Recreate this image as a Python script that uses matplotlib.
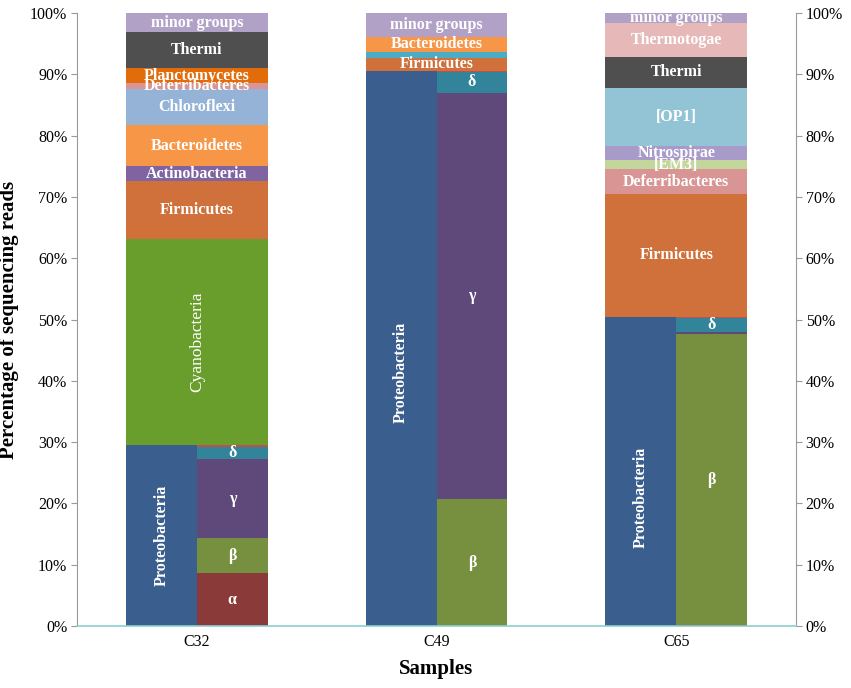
import matplotlib
matplotlib.use("Agg")
import matplotlib.pyplot as plt
from matplotlib.ticker import FuncFormatter

plt.rcParams["font.family"] = ["Liberation Serif", "DejaVu Serif"]

samples = ["C32", "C49", "C65"]

# Proteobacteria total (left half of each bar) and its classes (right half), in %
proteobacteria = [29.5, 90.5, 50.4]
prot_alpha = [8.6, 0.0, 0.2]
prot_beta = [5.8, 20.7, 47.4]
prot_gamma = [12.8, 66.3, 0.3]
prot_delta = [2.0, 3.4, 2.4]
prot_other = [0.3, 0.1, 0.1]

# other phyla stacked above Proteobacteria across the whole bar, bottom to top
phyla = ["Cyanobacteria", "Firmicutes", "Actinobacteria", "Unlabelled",
         "Bacteroidetes", "Chloroflexi", "Deferribacteres", "[EM3]",
         "Nitrospirae", "[OP1]", "Planctomycetes", "Thermi", "Thermotogae",
         "minor groups"]
phyla_values = {
    "Cyanobacteria":   [33.6, 0.0, 0.0],
    "Firmicutes":      [9.5, 2.2, 20.1],
    "Actinobacteria":  [2.4, 0.0, 0.0],
    "Unlabelled":      [0.0, 1.0, 0.0],
    "Bacteroidetes":   [6.7, 2.4, 0.0],
    "Chloroflexi":     [5.9, 0.0, 0.0],
    "Deferribacteres": [1.0, 0.0, 4.0],
    "[EM3]":           [0.0, 0.0, 1.5],
    "Nitrospirae":     [0.0, 0.0, 2.3],
    "[OP1]":           [0.0, 0.0, 9.5],
    "Planctomycetes":  [2.4, 0.0, 0.0],
    "Thermi":          [5.9, 0.0, 5.0],
    "Thermotogae":     [0.0, 0.0, 5.6],
    "minor groups":    [3.1, 3.9, 1.6],
}

colors = {
    "Proteobacteria": "#3A5F8E",
    "α": "#8B3A3A", "β": "#76903F", "γ": "#5E497A", "δ": "#32849A",
    "other": "#C0504D",
    "Cyanobacteria": "#699E2C", "Firmicutes": "#D0703A",
    "Actinobacteria": "#8064A2", "Unlabelled": "#4BACC6",
    "Bacteroidetes": "#F79646", "Chloroflexi": "#95B3D7",
    "Deferribacteres": "#D99594", "[EM3]": "#C3D69B",
    "Nitrospirae": "#A99BC9", "[OP1]": "#92C4D6",
    "Planctomycetes": "#E36C0A", "Thermi": "#4F4F4F",
    "Thermotogae": "#E6B9B8", "minor groups": "#B2A1C7",
}

# which segments get a text label
labelled = {
    "Cyanobacteria": [True, False, False],
    "Firmicutes": [True, True, True],
    "Actinobacteria": [True, False, False],
    "Bacteroidetes": [True, True, False],
    "Chloroflexi": [True, False, False],
    "Deferribacteres": [True, False, True],
    "[EM3]": [False, False, True],
    "Nitrospirae": [False, False, True],
    "[OP1]": [False, False, True],
    "Planctomycetes": [True, False, False],
    "Thermi": [True, False, True],
    "Thermotogae": [False, False, True],
    "minor groups": [True, True, True],
}
prot_label_y = [14.8, 41.3, 21.0]   # where the vertical "Proteobacteria" sits

half = 0.296
x = range(len(samples))

fig = plt.figure(figsize=(8.51, 6.88), dpi=100)
ax = fig.add_axes([0.0905, 0.0901, 0.8449, 0.8910])

lab = dict(color="white", fontweight="bold", fontsize=11.5, ha="center", va="center")

for i in x:
    # left half: Proteobacteria total
    ax.bar(i - half, proteobacteria[i], width=half, align="edge",
           color=colors["Proteobacteria"], linewidth=0)
    ax.text(i - half / 2, prot_label_y[i], "Proteobacteria", rotation=90, **lab)

    # right half: classes
    bottom = 0.0
    for name, vals in [("α", prot_alpha), ("β", prot_beta), ("γ", prot_gamma),
                       ("δ", prot_delta), ("other", prot_other)]:
        v = vals[i]
        if v > 0:
            ax.bar(i, v, width=half, bottom=bottom, align="edge",
                   color=colors[name], linewidth=0)
            if name != "other" and v >= 1.5:
                ax.text(i + half / 2, bottom + v / 2, name, **lab)
        bottom += v

    # whole-width phyla above
    bottom = proteobacteria[i]
    for name in phyla:
        v = phyla_values[name][i]
        if v > 0:
            ax.bar(i - half, v, width=2 * half, bottom=bottom, align="edge",
                   color=colors[name], linewidth=0)
            if labelled.get(name, [False] * 3)[i]:
                if name == "Cyanobacteria":
                    ax.text(i, bottom + v / 2, name, rotation=90,
                            color="white", fontsize=12.5,
                            ha="center", va="center")
                else:
                    ax.text(i, bottom + v / 2, name, **lab)
        bottom += v

ax.set_xlim(-0.5, 2.5)
ax.set_ylim(0, 100)
ax.set_xticks(list(x))
ax.set_xticklabels(samples)
ax.set_yticks(range(0, 101, 10))
ax.yaxis.set_major_formatter(FuncFormatter(lambda v, p: f"{int(v)}%"))
ax.tick_params(axis="y", right=True, labelright=True, length=4,
               color="#999999", labelsize=11.5, pad=3)
ax.tick_params(axis="x", length=0, labelsize=11.5, pad=6)

for side in ["left", "right"]:
    ax.spines[side].set_color("#999999")
ax.spines["top"].set_visible(False)
ax.spines["bottom"].set_color("#8CCFD2")
ax.spines["bottom"].set_linewidth(1.2)

ax.set_ylabel("Percentage of sequencing reads", fontsize=15, fontweight="bold",
              labelpad=8)
ax.set_xlabel("Samples", fontsize=15, fontweight="bold", labelpad=6)

fig.savefig("out.png", dpi=100)
